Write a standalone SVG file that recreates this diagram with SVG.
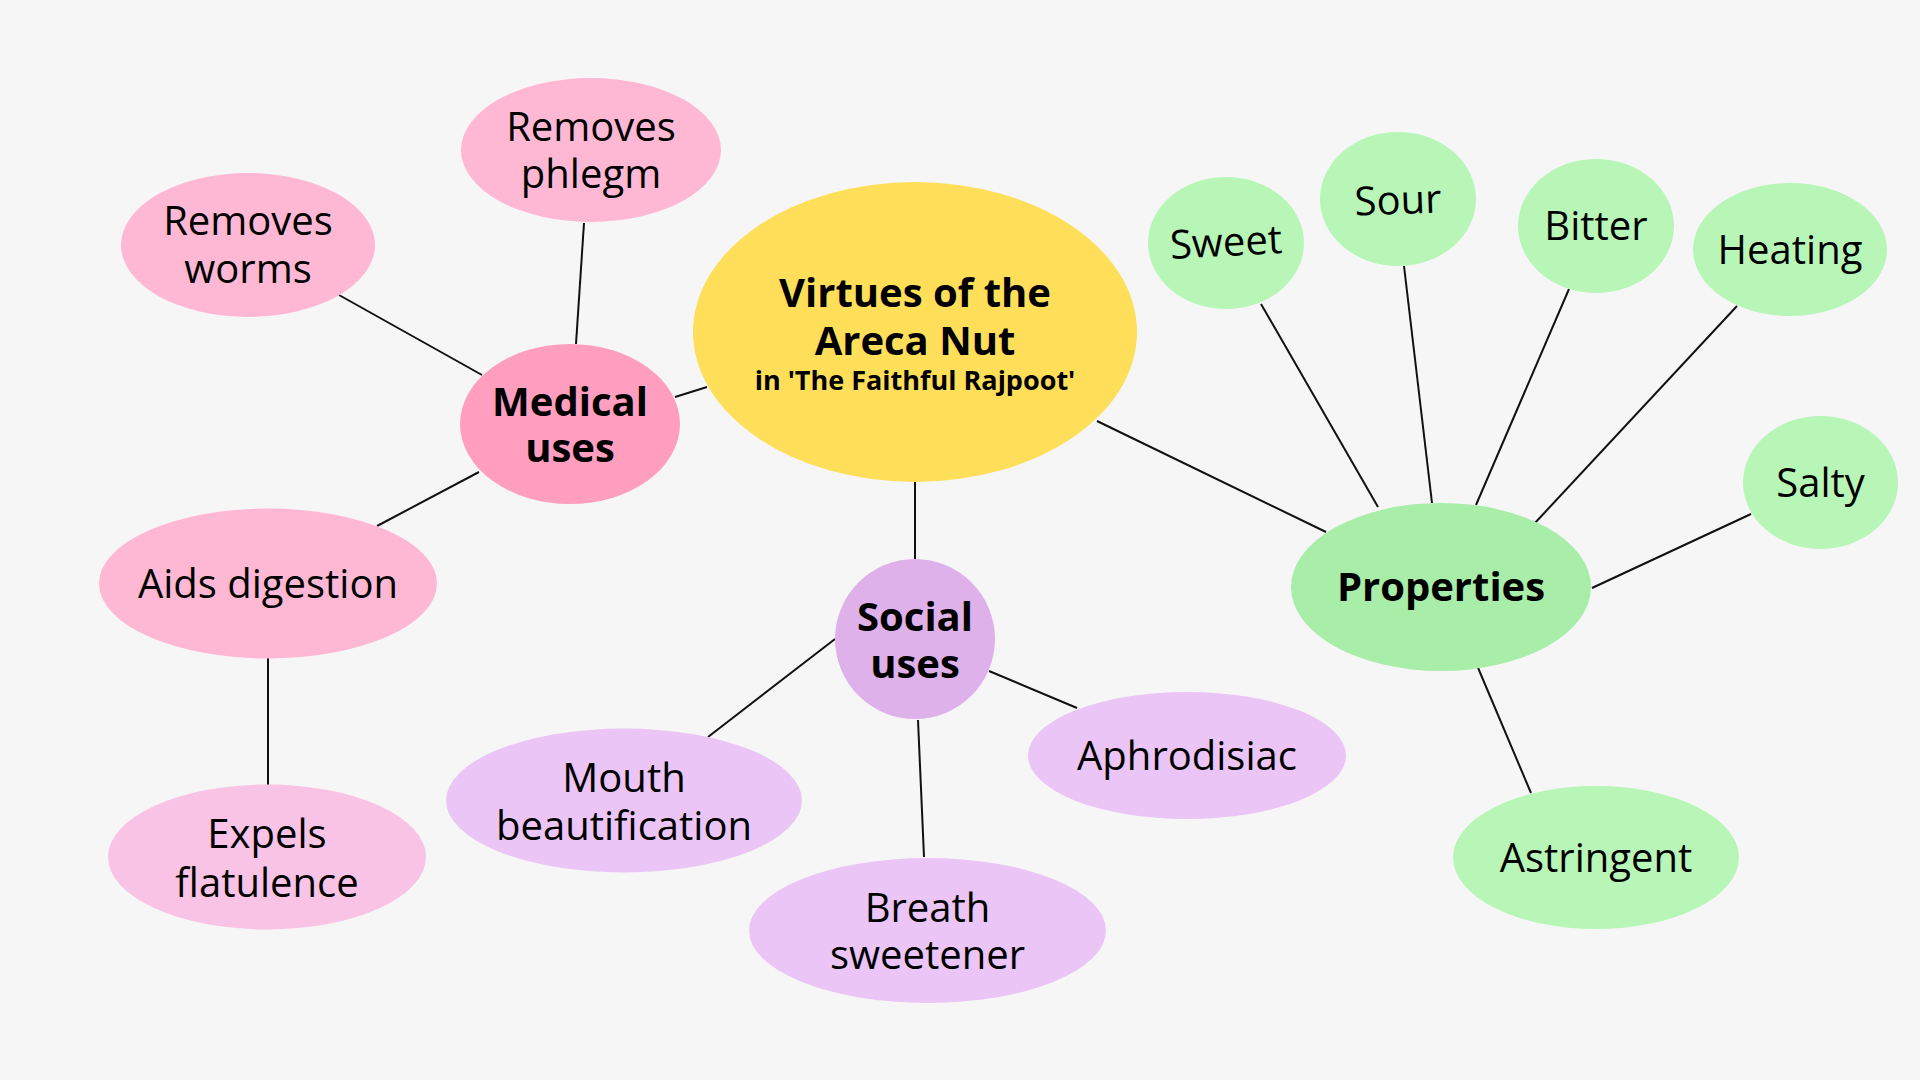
<svg xmlns="http://www.w3.org/2000/svg" width="1920" height="1080" viewBox="0 0 1920 1080">
<style>
.bg{fill:#f6f6f6}
.t{font-family:"Open Sans","Noto Sans","Liberation Sans",sans-serif;font-size:40px;fill:#000;text-anchor:middle}
.b{font-weight:bold;font-size:40px}
.s{font-weight:bold;font-size:27px}
.conn line{stroke:#111;stroke-width:2}
.yel{fill:#ffde59}
.pk{fill:#ff9ebf}
.lpk{fill:#ffb8d4}
.lpk2{fill:#f9c3e6}
.pu{fill:#deb1ea}
.lpu{fill:#ebc5f5}
.gr{fill:#a8eda8}
.lgr{fill:#b8f6b8}
</style>
<rect class="bg" x="0" y="0" width="1920" height="1080"/>
<g id="connectors" class="conn">
<line x1="675" y1="397" x2="707" y2="387"/>
<line x1="915" y1="482" x2="915" y2="560"/>
<line x1="1097" y1="421" x2="1326" y2="532"/>
<line x1="339" y1="295" x2="482" y2="375"/>
<line x1="584" y1="223" x2="576" y2="344"/>
<line x1="377" y1="526" x2="479" y2="472"/>
<line x1="268" y1="658" x2="268" y2="785"/>
<line x1="708" y1="737" x2="835" y2="639"/>
<line x1="918" y1="720" x2="924" y2="857"/>
<line x1="989" y1="671" x2="1077" y2="708"/>
<line x1="1261" y1="304" x2="1378" y2="507"/>
<line x1="1404" y1="266" x2="1432" y2="503"/>
<line x1="1569" y1="289" x2="1476" y2="505"/>
<line x1="1737" y1="306" x2="1534" y2="524"/>
<line x1="1751" y1="514" x2="1592" y2="588"/>
<line x1="1476" y1="663" x2="1531" y2="793"/>
</g>
<g id="center">
<ellipse class="yel" cx="915" cy="332" rx="222" ry="150"/>
<text class="t b" x="915" y="307">Virtues of the</text>
<text class="t b" x="915" y="355">Areca Nut</text>
<text class="t s" x="915" y="390">in 'The Faithful Rajpoot'</text>
</g>
<g id="medical">
<ellipse class="pk" cx="570" cy="424" rx="110" ry="80"/>
<text class="t b" x="570" y="416">Medical</text>
<text class="t b" x="570" y="462">uses</text>
</g>
<g id="social">
<ellipse class="pu" cx="915" cy="639" rx="80" ry="80"/>
<text class="t b" x="915" y="631">Social</text>
<text class="t b" x="915" y="678">uses</text>
</g>
<g id="properties">
<ellipse class="gr" cx="1441" cy="587" rx="150" ry="84"/>
<text class="t b" x="1441" y="601">Properties</text>
</g>
<g id="removes-worms">
<ellipse class="lpk" cx="248" cy="245" rx="127" ry="72"/>
<text class="t" x="248" y="235">Removes</text>
<text class="t" x="248" y="283">worms</text>
</g>
<g id="removes-phlegm">
<ellipse class="lpk" cx="591" cy="150" rx="130" ry="72"/>
<text class="t" x="591" y="141">Removes</text>
<text class="t" x="591" y="188">phlegm</text>
</g>
<g id="aids-digestion">
<ellipse class="lpk" cx="268" cy="583.5" rx="169" ry="75"/>
<text class="t" x="268" y="598">Aids digestion</text>
</g>
<g id="expels-flatulence">
<ellipse class="lpk2" cx="267" cy="857" rx="159" ry="72.5"/>
<text class="t" x="267" y="848">Expels</text>
<text class="t" x="267" y="897">flatulence</text>
</g>
<g id="mouth-beautification">
<ellipse class="lpu" cx="624" cy="800.5" rx="178" ry="72"/>
<text class="t" x="624" y="792">Mouth</text>
<text class="t" x="624" y="840">beautification</text>
</g>
<g id="breath-sweetener">
<ellipse class="lpu" cx="927.5" cy="930.5" rx="178.5" ry="72.5"/>
<text class="t" x="927.5" y="922">Breath</text>
<text class="t" x="927.5" y="969">sweetener</text>
</g>
<g id="aphrodisiac">
<ellipse class="lpu" cx="1187" cy="755.5" rx="159" ry="63.5"/>
<text class="t" x="1187" y="770">Aphrodisiac</text>
</g>
<g id="sweet">
<ellipse class="lgr" cx="1226" cy="243" rx="78" ry="66"/>
<text class="t" x="1226" y="256" transform="rotate(-3 1226 243)">Sweet</text>
</g>
<g id="sour">
<ellipse class="lgr" cx="1398" cy="199" rx="78" ry="67"/>
<text class="t" x="1398" y="214" transform="rotate(-2 1398 199)">Sour</text>
</g>
<g id="bitter">
<ellipse class="lgr" cx="1596" cy="226" rx="78" ry="67"/>
<text class="t" x="1596" y="240">Bitter</text>
</g>
<g id="heating">
<ellipse class="lgr" cx="1790" cy="249.5" rx="97" ry="66.5"/>
<text class="t" x="1790" y="264">Heating</text>
</g>
<g id="salty">
<ellipse class="lgr" cx="1820.5" cy="482.5" rx="77.5" ry="66.5"/>
<text class="t" x="1820.5" y="497">Salty</text>
</g>
<g id="astringent">
<ellipse class="lgr" cx="1596" cy="857.5" rx="143" ry="71.5"/>
<text class="t" x="1596" y="872">Astringent</text>
</g>
</svg>
